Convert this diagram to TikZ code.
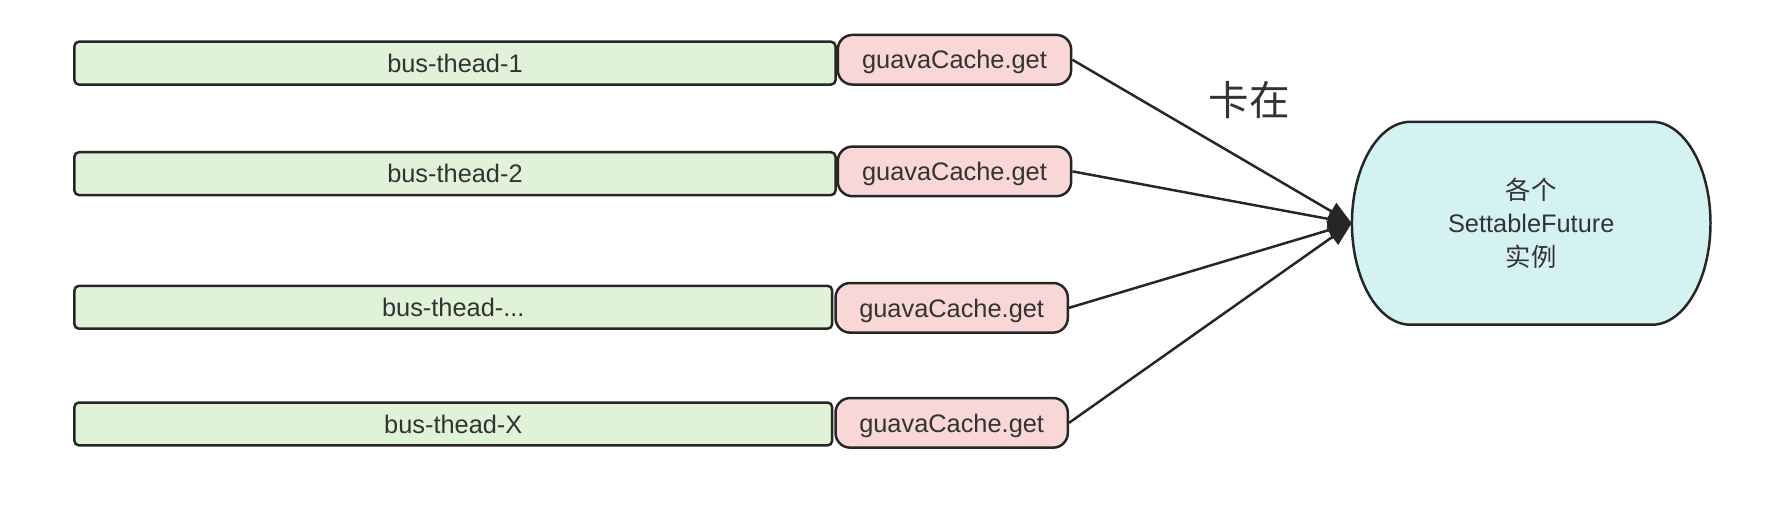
\documentclass[tikz,border=0pt]{standalone}
\usepackage{fontspec}
\setmainfont{Liberation Sans}
\newfontfamily\cjk{Noto Sans CJK SC}
\usetikzlibrary{arrows.meta}
\definecolor{greenfill}{RGB}{224,243,216}
\definecolor{pinkfill}{RGB}{249,215,215}
\definecolor{cyanfill}{RGB}{213,242,242}
\definecolor{strokec}{RGB}{38,38,38}
\definecolor{textc}{RGB}{51,51,51}
\tikzset{
  threadbox/.style={draw=strokec, fill=greenfill, line width=2.2pt, rounded corners=4pt,
    minimum height=38pt, inner sep=0pt, text depth=0pt, font=\fontsize{22.5}{27}\selectfont, text=textc},
  getbox/.style={draw=strokec, fill=pinkfill, line width=2.2pt, rounded corners=13pt,
    minimum height=44pt, inner sep=0pt, text depth=0pt, font=\fontsize{22.5}{27}\selectfont, text=textc},
  futurebox/.style={draw=strokec, fill=cyanfill, line width=2.2pt},
  conn/.style={draw=strokec, line width=2.2pt, -{Triangle[length=21pt,width=17pt]}},
}
\begin{document}
\begin{tikzpicture}[x=1pt,y=-1pt]
\useasboundingbox (0,0) rectangle (1568,449);
% threads
\node[threadbox, minimum width=675pt] (t1) at (403.5,56) {bus-thead-1};
\node[threadbox, minimum width=675pt] (t2) at (403.5,154) {bus-thead-2};
\node[threadbox, minimum width=672pt] (t3) at (402,272.5) {bus-thead-...};
\node[threadbox, minimum width=672pt] (t4) at (402,376) {bus-thead-X};
% gets
\node[getbox, minimum width=207pt] (g1) at (846.5,53) {guavaCache.get};
\node[getbox, minimum width=207pt] (g2) at (846.5,152) {guavaCache.get};
\node[getbox, minimum width=206pt] (g3) at (844,273) {guavaCache.get};
\node[getbox, minimum width=206pt] (g4) at (844,375) {guavaCache.get};
% future
\node[minimum width=318pt, minimum height=180pt, inner sep=0pt] (fut) at (1358,198) {};
\draw[futurebox, shift={(fut.center)}]
  (-107,-90) -- (107,-90)
  .. controls (135.7,-90) and (159,-49.7) .. (159,0)
  .. controls (159,49.7) and (135.7,90) .. (107,90)
  -- (-107,90)
  .. controls (-135.7,90) and (-159,49.7) .. (-159,0)
  .. controls (-159,-49.7) and (-135.7,-90) .. cycle;
\node[align=center, text=textc, font=\fontsize{22.5}{30}\selectfont] (futtext) at (fut.center)
  {{\cjk 各个}\\SettableFuture\\{\cjk 实例}};
% label
\node[text=textc, font=\cjk\fontsize{36}{40}\selectfont] (lbl) at (1108,89) {卡在};
% connectors
\draw[conn] (g1.east) -- (fut.west);
\draw[conn] (g2.east) -- (fut.west);
\draw[conn] (g3.east) -- (fut.west);
\draw[conn] (g4.east) -- (fut.west);
\end{tikzpicture}
\end{document}
